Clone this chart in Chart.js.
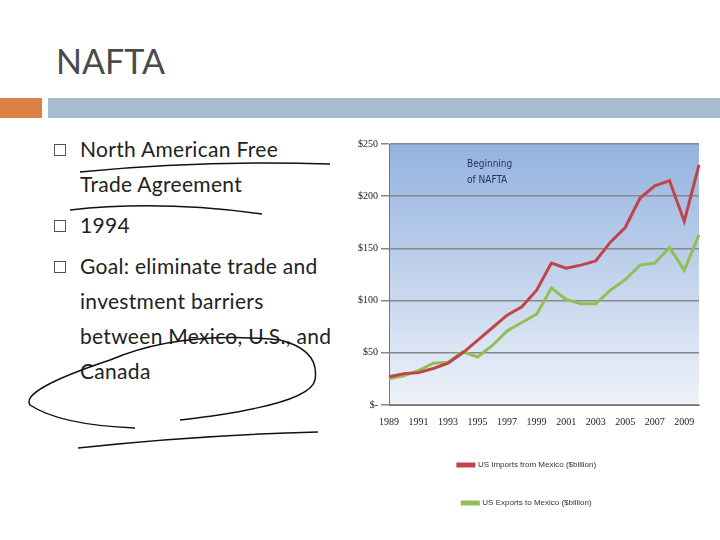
<!DOCTYPE html>
<html><head><meta charset="utf-8">
<script src="https://cdn.jsdelivr.net/npm/chart.js@4"></script>
<style>
body{margin:0;width:720px;height:540px;background:#fff;position:relative;overflow:hidden;font-family:Lato,"Open Sans",sans-serif}
#title{position:absolute;left:56px;top:40px;font-size:34px;color:#4a4a4a}
#orange{position:absolute;left:0;top:98px;width:42px;height:20px;background:#dd8046}
#bar{position:absolute;left:48px;top:98px;width:672px;height:20px;background:#a8bccc}
ul{position:absolute;left:52px;top:131px;margin:0;padding:0;list-style:none;width:280px}
li{position:relative;padding-left:28px;font-size:21px;line-height:35px;color:#222;margin-bottom:6px;letter-spacing:0.3px}
li::before{content:"";position:absolute;left:2px;top:13px;width:10px;height:10px;border:1px solid #555}
#wrap{position:absolute;left:355px;top:135px;width:350px;height:390px}
svg{position:absolute;left:0;top:0}
</style></head><body>
<div id="title">NAFTA</div><div id="orange"></div><div id="bar"></div>
<ul>
<li>North American Free Trade Agreement</li>
<li>1994</li>
<li>Goal: eliminate trade and investment barriers between Mexico, U.S., and Canada</li>
</ul>
<svg width="720" height="540"><g fill="none" stroke="#111" stroke-width="1.5">
<path d="M80 172 Q200 160 330 164"/>
<path d="M70 210 Q160 200 262 214"/>
<path d="M280 340 Q180 330 110 360 Q20 390 30 405 Q60 425 135 428 M280 340 Q320 350 315 380 Q310 405 180 420"/>
<path d="M78 448 Q200 435 318 432"/>
</g></svg>
<div id="wrap"><canvas id="c"></canvas></div>
<script>
var years = ["1989","1990","1991","1992","1993","1994","1995","1996","1997","1998","1999","2000","2001","2002","2003","2004","2005","2006","2007","2008","2009","2010"];
var imports = [27,30,31,35,40,50,62,74,86,94,110,136,131,134,138,156,170,198,210,215,176,230];
var exports = [25,28,33,40,41,51,46,57,71,79,87,112,101,97,97,110,120,134,136,151,129,163];

var bgPlugin = {
  id: 'bg',
  beforeDraw: function(chart){
    var a = chart.chartArea, ctx = chart.ctx;
    var g = ctx.createLinearGradient(0, a.top, 0, a.bottom);
    g.addColorStop(0, '#94b3df'); g.addColorStop(1, '#eef2f9');
    ctx.save(); ctx.fillStyle = g; ctx.fillRect(a.left, a.top, a.right - a.left, a.bottom - a.top);
    ctx.fillStyle = '#1f3360'; ctx.font = '10px "Liberation Sans Narrow","DejaVu Sans Condensed",sans-serif';
    ctx.fillText('Beginning', a.left + 78, a.top + 20);
    ctx.fillText('of NAFTA', a.left + 78, a.top + 36);
    ctx.restore();
  }
};

new Chart(document.getElementById('c'), {
  type: 'line',
  data: { labels: years, datasets: [
    { label: 'US Imports from Mexico ($billion)', data: imports, borderColor: '#c0454a', borderWidth: 3, pointRadius: 0, tension: 0 },
    { label: 'US Exports to Mexico ($billion)', data: exports, borderColor: '#92bf55', borderWidth: 3, pointRadius: 0, tension: 0 }
  ]},
  options: {
    responsive: true, maintainAspectRatio: false, animation: false,
    layout: { padding: { right: 6, bottom: 8 } },
    plugins: {
      legend: { position: 'bottom', labels: { boxWidth: 16, boxHeight: 2, font: { size: 8, family: '"Liberation Sans Narrow",sans-serif' }, color: '#333', padding: 30 } },
      tooltip: { enabled: false }
    },
    scales: {
      x: { grid: { display: false }, border: { color: '#777' },
        ticks: { autoSkip: false, maxRotation: 0, color: '#222', font: { size: 10, family: '"Liberation Serif",serif' },
          callback: function(v, i){ return i % 2 === 0 ? years[i] : ''; } } },
      y: { min: 0, max: 250, grid: { color: '#888', lineWidth: 1.5, drawTicks: true }, border: { color: '#777' },
        ticks: { stepSize: 50, color: '#222', font: { size: 10, family: '"Liberation Serif",serif' },
          callback: function(v){ return v === 0 ? '$-' : '$' + v; } } }
    }
  },
  plugins: [bgPlugin]
});
</script>
</body></html>
